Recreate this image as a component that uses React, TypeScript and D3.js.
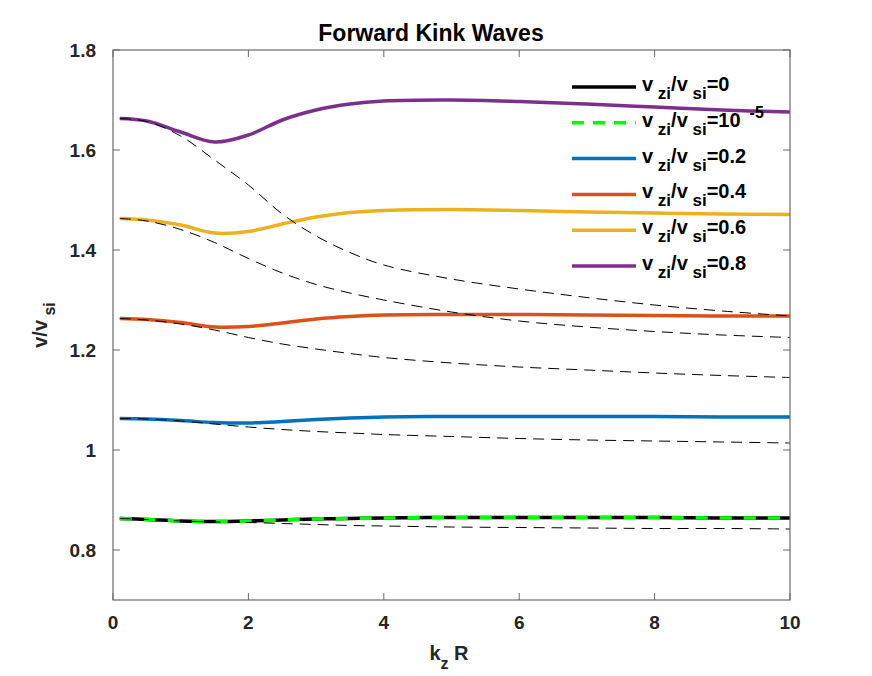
import * as d3 from "d3";

// valores
const kz = [0.1, 0.5, 1, 1.5, 2, 2.5, 3, 3.5, 4, 5, 6, 7, 8, 9, 10];

const sol0 = [0.863, 0.861, 0.858, 0.857, 0.858, 0.86, 0.862, 0.863, 0.864, 0.865, 0.865, 0.865, 0.865, 0.864, 0.864];
const sol1e5 = [0.863, 0.861, 0.858, 0.857, 0.858, 0.86, 0.862, 0.863, 0.864, 0.865, 0.865, 0.865, 0.865, 0.864, 0.864];
const sol02 = [1.063, 1.062, 1.059, 1.055, 1.054, 1.057, 1.061, 1.064, 1.066, 1.067, 1.067, 1.067, 1.067, 1.066, 1.066];
const sol04 = [1.263, 1.261, 1.255, 1.246, 1.247, 1.254, 1.262, 1.267, 1.27, 1.271, 1.271, 1.27, 1.269, 1.268, 1.268];
const sol06 = [1.463, 1.46, 1.45, 1.434, 1.437, 1.452, 1.466, 1.475, 1.479, 1.481, 1.479, 1.476, 1.474, 1.472, 1.471];
const sol08 = [1.663, 1.658, 1.636, 1.616, 1.63, 1.66, 1.68, 1.692, 1.698, 1.7, 1.697, 1.692, 1.686, 1.68, 1.676];

// curvas de referencia (trazo fino discontinuo)
const ref0 = [0.863, 0.861, 0.858, 0.856, 0.855, 0.853, 0.851, 0.849, 0.848, 0.846, 0.845, 0.844, 0.843, 0.843, 0.842];
const ref02 = [1.063, 1.062, 1.058, 1.052, 1.046, 1.041, 1.037, 1.034, 1.031, 1.027, 1.023, 1.02, 1.018, 1.016, 1.014];
const ref04 = [1.263, 1.26, 1.252, 1.24, 1.225, 1.212, 1.202, 1.193, 1.185, 1.174, 1.166, 1.16, 1.154, 1.149, 1.145];
const ref06 = [1.463, 1.458, 1.441, 1.415, 1.383, 1.354, 1.331, 1.314, 1.3, 1.276, 1.258, 1.246, 1.237, 1.23, 1.225];
const ref08 = [1.663, 1.657, 1.628, 1.58, 1.53, 1.472, 1.428, 1.395, 1.37, 1.342, 1.322, 1.305, 1.29, 1.278, 1.268];

const etiquetas = ["0", "10", "0.2", "0.4", "0.6", "0.8"];
const xTicks = [0, 2, 4, 6, 8, 10];
const yTicks = [0.8, 1, 1.2, 1.4, 1.6, 1.8];

const ANCHO = 872;
const ALTO = 676;
const FUENTE = "'Liberation Sans', Arial, Helvetica, sans-serif";

export default function App() {
  const margen = { left: 113, right: 790, top: 50, bottom: 600 };
  const x = d3.scaleLinear().domain([0, 10]).range([margen.left, margen.right]);
  const y = d3.scaleLinear().domain([0.7, 1.8]).range([margen.bottom, margen.top]);

  const linea = (vals: number[]) =>
    d3
      .line<number>()
      .x((_, i) => x(kz[i]))
      .y((d) => y(d))
      .curve(d3.curveCatmullRom.alpha(0.5))(vals) || "";

  const series = [
    { vals: sol0, color: "#000000", dash: undefined },
    { vals: sol1e5, color: "#00FF00", dash: "12,12" },
    { vals: sol02, color: "#0072BD", dash: undefined },
    { vals: sol04, color: "#D95319", dash: undefined },
    { vals: sol06, color: "#EDB120", dash: undefined },
    { vals: sol08, color: "#7E2F8E", dash: undefined },
  ];
  const refs = [ref0, ref02, ref04, ref06, ref08];

  const ejeColor = "#6b6b6b";
  const tick = 7;

  return (
    <svg
      width={ANCHO}
      height={ALTO}
      style={{ position: "absolute", left: 0, top: 0, background: "#fff" }}
      fontFamily={FUENTE}
    >
      <rect width={ANCHO} height={ALTO} fill="#fff" />

      {series.map((s, i) => (
        <path
          key={i}
          d={linea(s.vals)}
          fill="none"
          stroke={s.color}
          strokeWidth={3.5}
          strokeDasharray={s.dash}
        />
      ))}
      {refs.map((r, i) => (
        <path key={"r" + i} d={linea(r)} fill="none" stroke="#000" strokeWidth={1} strokeDasharray="11,7" />
      ))}

      {/* caja de ejes */}
      <rect
        x={margen.left}
        y={margen.top}
        width={margen.right - margen.left}
        height={margen.bottom - margen.top}
        fill="none"
        stroke={ejeColor}
        strokeWidth={1.2}
      />
      {xTicks.map((t) => (
        <g key={"x" + t}>
          <line x1={x(t)} x2={x(t)} y1={margen.bottom} y2={margen.bottom - tick} stroke={ejeColor} />
          <line x1={x(t)} x2={x(t)} y1={margen.top} y2={margen.top + tick} stroke={ejeColor} />
          <text x={x(t)} y={629} textAnchor="middle" fontSize={19} fontWeight="bold" fill="#262626">
            {t}
          </text>
        </g>
      ))}
      {yTicks.map((t) => (
        <g key={"y" + t}>
          <line x1={margen.left} x2={margen.left + tick} y1={y(t)} y2={y(t)} stroke={ejeColor} />
          <line x1={margen.right} x2={margen.right - tick} y1={y(t)} y2={y(t)} stroke={ejeColor} />
          <text x={96} y={y(t) + 7} textAnchor="end" fontSize={19} fontWeight="bold" fill="#262626">
            {d3.format("~g")(t)}
          </text>
        </g>
      ))}

      <text x={431} y={41} textAnchor="middle" fontSize={23} fontWeight="bold" fill="#000">
        Forward Kink Waves
      </text>

      <text x={449} y={660} textAnchor="middle" fontSize={20} fontWeight="bold" fill="#262626">
        <tspan>k</tspan>
        <tspan fontSize={16} dy={9}>z</tspan>
        <tspan dy={-9}> R</tspan>
      </text>

      <text transform="translate(47,325) rotate(-90)" textAnchor="middle" fontSize={20} fontWeight="bold" fill="#262626">
        <tspan>v/v</tspan>
        <tspan fontSize={16} dy={8}> si</tspan>
      </text>

      {/* leyenda */}
      {series.map((s, i) => {
        const ly = 87 + i * 35.8;
        return (
          <g key={"l" + i}>
            <line x1={572} x2={636} y1={ly} y2={ly} stroke={s.color} strokeWidth={3.5} strokeDasharray={s.dash ? "12,9" : undefined} />
            <text x={642} y={ly + 4} fontSize={20} fontWeight="bold" fill="#000">
              <tspan>v</tspan>
              <tspan fontSize={17} dy={8}> zi</tspan>
              <tspan dy={-8}>/v</tspan>
              <tspan fontSize={17} dy={8}> si</tspan>
              <tspan dy={-8}>={etiquetas[i]}</tspan>
              {i === 1 ? (
                <tspan fontSize={16} dx={9} dy={-9}>-5</tspan>
              ) : null}
            </text>
          </g>
        );
      })}
    </svg>
  );
}
